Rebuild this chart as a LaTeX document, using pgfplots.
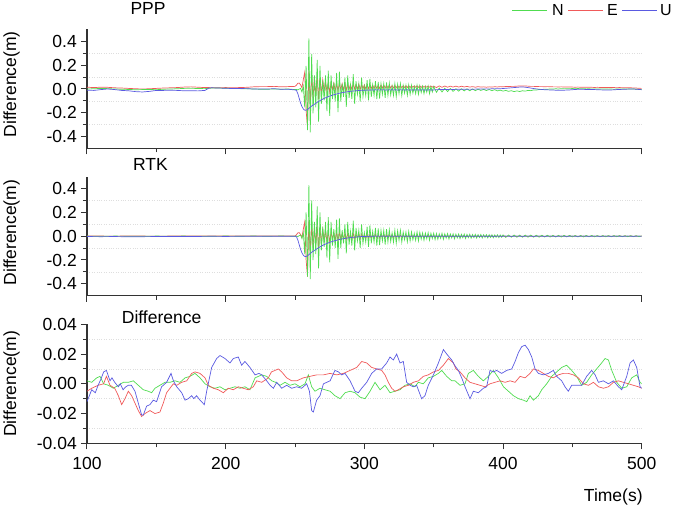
\documentclass[border=0pt]{standalone}
\usepackage{fontspec}
\setmainfont{Liberation Sans}
\usepackage{pgfplots}
\usepackage{pgfplotstable}
\pgfplotsset{compat=1.18}
\definecolor{cN}{RGB}{80,220,80}
\definecolor{cE}{RGB}{240,90,90}
\definecolor{cU}{RGB}{90,90,225}

\pgfplotstableread{
t N E U
100 0.000 0.015 -0.010
105 0.002 0.012 -0.012
110 0.005 0.015 -0.005
115 0.003 0.014 0.000
120 0.000 0.010 -0.005
125 -0.002 0.008 -0.012
130 -0.004 0.005 -0.015
135 -0.006 0.002 -0.022
140 -0.005 0.000 -0.025
145 -0.004 0.002 -0.020
150 -0.006 0.005 -0.012
155 -0.002 0.008 -0.012
160 0.000 0.010 -0.010
165 0.002 0.012 -0.012
170 0.005 0.016 -0.015
175 0.006 0.018 -0.014
180 0.004 0.015 -0.016
185 0.003 0.012 -0.012
188 0.006 0.012 0.008
190 0.008 0.010 0.010
195 0.008 0.010 0.008
200 0.006 0.012 0.006
205 0.005 0.010 0.004
210 0.003 0.012 0.004
215 0.002 0.014 0.003
220 0.000 0.018 0.000
225 -0.002 0.020 0.000
230 -0.002 0.020 0.000
235 0.000 0.022 0.002
240 -0.002 0.018 -0.002
245 0.000 0.020 -0.002
250 -0.005 0.022 -0.008
251 -0.003 0.032 -0.012
252 -0.008 0.048 -0.038
253 -0.001 0.050 -0.078
254 0.005 0.035 -0.118
255 -0.025 0.010 -0.148
256 0.025 0.080 -0.168
257 -0.155 0.140 -0.178
258 0.195 -0.180 -0.178
259 -0.345 -0.320 -0.173
260 0.425 0.150 -0.163
261 -0.365 -0.120 -0.153
262 0.295 0.116 -0.143
263 -0.205 -0.076 -0.136
264 0.115 0.100 -0.128
265 -0.155 -0.052 -0.120
266 0.245 0.108 -0.112
267 -0.275 -0.084 -0.105
268 0.195 0.092 -0.098
269 -0.125 -0.044 -0.091
270 0.075 0.076 -0.085
271 -0.095 -0.016 -0.079
272 0.115 0.068 -0.074
273 -0.185 -0.022 -0.069
274 0.155 0.056 -0.064
275 -0.225 -0.028 -0.060
276 0.115 0.050 -0.056
277 -0.085 -0.004 -0.052
278 0.055 0.050 -0.048
279 -0.105 -0.016 -0.045
280 0.135 0.050 -0.042
281 -0.195 -0.016 -0.039
282 0.145 0.050 -0.036
283 -0.105 -0.004 -0.033
284 0.045 0.044 -0.031
285 -0.065 -0.010 -0.029
286 0.095 0.047 -0.027
287 -0.150 -0.010 -0.025
288 0.115 0.044 -0.023
289 -0.075 -0.001 -0.021
290 0.035 0.038 -0.020
291 -0.085 -0.004 -0.018
292 0.125 0.044 -0.017
293 -0.125 -0.001 -0.016
294 0.065 0.038 -0.015
295 -0.045 0.002 -0.014
296 0.045 0.041 -0.013
297 -0.105 -0.004 -0.012
298 0.095 0.038 -0.011
299 -0.065 0.002 -0.011
300 0.025 0.035 -0.010
301 -0.055 0.002 -0.010
302 0.075 0.038 -0.009
303 -0.095 0.002 -0.010
304 0.085 0.035 -0.009
305 -0.065 0.005 -0.008
306 0.035 0.032 -0.009
307 -0.055 0.005 -0.008
308 0.065 0.035 -0.007
309 -0.085 0.005 -0.008
310 0.060 0.032 -0.007
311 -0.080 0.005 -0.008
312 0.045 0.032 -0.007
313 -0.045 0.008 -0.008
314 0.045 0.032 -0.007
315 -0.075 0.008 -0.008
316 0.055 0.032 -0.009
317 -0.055 0.008 -0.008
318 0.050 0.031 -0.007
319 -0.050 0.009 -0.008
320 0.025 0.029 -0.007
321 -0.055 0.009 -0.008
322 0.045 0.029 -0.007
323 -0.065 0.011 -0.008
324 0.040 0.029 -0.009
325 -0.040 0.011 -0.008
326 0.045 0.029 -0.007
327 -0.055 0.011 -0.008
328 0.030 0.027 -0.007
329 -0.035 0.013 -0.008
330 0.030 0.027 -0.008
331 -0.053 0.013 -0.007
332 0.035 0.027 -0.008
333 -0.045 0.013 -0.009
334 0.031 0.026 -0.008
335 -0.035 0.014 -0.007
336 0.020 0.026 -0.008
337 -0.040 0.014 -0.008
338 0.031 0.026 -0.007
339 -0.045 0.014 -0.008
340 0.027 0.026 -0.009
341 -0.030 0.014 -0.008
342 0.023 0.025 -0.007
343 -0.039 0.015 -0.008
344 0.021 0.025 -0.008
345 -0.027 0.015 -0.009
346 0.025 0.025 -0.008
347 -0.039 0.015 -0.007
348 0.020 0.025 -0.008
349 -0.025 0.015 -0.008
350 0.020 0.024 -0.008
352 -0.028 0.012 -0.006
354 0.008 0.026 -0.005
356 -0.025 0.014 -0.004
358 0.006 0.025 -0.005
360 -0.022 0.015 -0.004
362 0.004 0.024 -0.003
364 -0.020 0.016 -0.004
366 0.002 0.024 -0.003
368 -0.018 0.016 -0.002
370 0.002 0.023 -0.003
372 -0.016 0.017 -0.002
374 0.001 0.022 -0.002
376 -0.015 0.016 -0.001
378 0.000 0.020 -0.002
380 -0.014 0.015 -0.001
382 -0.002 0.020 0.000
384 -0.012 0.016 -0.001
386 -0.003 0.018 0.000
388 -0.013 0.015 0.001
390 -0.004 0.018 0.000
392 -0.014 0.016 0.002
394 -0.006 0.019 0.001
396 -0.016 0.017 0.003
398 -0.010 0.020 0.002
400 -0.018 0.018 0.004
402 -0.012 0.021 0.006
404 -0.020 0.020 0.008
406 -0.014 0.022 0.010
408 -0.022 0.022 0.012
410 -0.016 0.024 0.014
412 -0.021 0.025 0.016
414 -0.015 0.026 0.017
416 -0.018 0.025 0.015
418 -0.012 0.024 0.012
420 -0.014 0.022 0.008
422 -0.008 0.022 0.004
424 -0.009 0.021 0.001
426 -0.004 0.020 -0.002
428 -0.005 0.020 -0.004
430 -0.001 0.019 -0.006
432 -0.003 0.020 -0.007
434 0.001 0.019 -0.008
436 -0.001 0.018 -0.009
438 0.002 0.018 -0.010
440 0.000 0.017 -0.010
442 0.003 0.018 -0.011
444 0.001 0.017 -0.010
446 0.003 0.016 -0.009
448 0.002 0.017 -0.008
450 0.004 0.016 -0.006
452 0.002 0.015 -0.004
454 0.004 0.016 -0.003
456 0.002 0.015 -0.002
458 0.003 0.014 -0.003
460 0.001 0.015 -0.004
462 0.002 0.014 -0.005
464 0.000 0.014 -0.004
466 0.001 0.013 -0.005
468 0.000 0.014 -0.006
470 0.001 0.013 -0.007
472 -0.001 0.013 -0.008
474 0.000 0.012 -0.008
476 -0.001 0.013 -0.009
478 0.000 0.012 -0.008
480 -0.002 0.012 -0.007
482 0.000 0.011 -0.005
484 -0.001 0.012 -0.004
486 0.000 0.011 -0.003
488 -0.001 0.010 -0.002
490 0.000 0.011 -0.001
492 -0.001 0.010 0.000
494 0.000 0.009 0.000
496 -0.002 0.008 -0.002
498 -0.003 0.006 -0.004
500 -0.004 0.005 -0.006
}\ppp

\pgfplotstableread{
t N E U
100 0.001 0.002 -0.003
110 -0.001 0.001 -0.004
120 0.001 0.000 -0.003
130 0.000 0.002 -0.005
140 -0.001 0.001 -0.004
150 0.001 0.000 -0.003
160 0.000 0.001 -0.002
170 0.001 0.002 -0.003
180 -0.001 0.001 -0.002
190 0.000 0.002 -0.001
200 0.001 0.001 -0.002
210 0.000 0.002 -0.001
220 0.001 0.001 0.000
230 0.000 0.002 -0.001
240 0.001 0.001 0.000
250 0.000 0.002 0.000
251 0.002 0.012 -0.004
252 -0.003 0.028 -0.030
253 0.004 0.030 -0.070
254 0.010 0.015 -0.110
255 -0.020 -0.010 -0.140
256 0.030 0.060 -0.160
257 -0.150 0.120 -0.170
258 0.200 -0.200 -0.170
259 -0.340 -0.340 -0.165
260 0.430 0.130 -0.155
261 -0.360 -0.140 -0.145
262 0.300 0.096 -0.135
263 -0.200 -0.096 -0.128
264 0.120 0.080 -0.120
265 -0.150 -0.072 -0.112
266 0.250 0.088 -0.104
267 -0.270 -0.104 -0.097
268 0.200 0.072 -0.090
269 -0.120 -0.064 -0.083
270 0.080 0.056 -0.077
271 -0.090 -0.036 -0.071
272 0.120 0.048 -0.066
273 -0.180 -0.042 -0.061
274 0.160 0.036 -0.056
275 -0.220 -0.048 -0.052
276 0.120 0.030 -0.048
277 -0.080 -0.024 -0.044
278 0.060 0.030 -0.040
279 -0.100 -0.036 -0.037
280 0.140 0.030 -0.034
281 -0.190 -0.036 -0.031
282 0.150 0.030 -0.028
283 -0.100 -0.024 -0.025
284 0.050 0.024 -0.023
285 -0.060 -0.030 -0.021
286 0.100 0.027 -0.019
287 -0.145 -0.030 -0.017
288 0.120 0.024 -0.015
289 -0.070 -0.021 -0.013
290 0.040 0.018 -0.012
291 -0.080 -0.024 -0.010
292 0.130 0.024 -0.009
293 -0.120 -0.021 -0.008
294 0.070 0.018 -0.007
295 -0.040 -0.018 -0.006
296 0.050 0.021 -0.005
297 -0.100 -0.024 -0.004
298 0.100 0.018 -0.003
299 -0.060 -0.018 -0.003
300 0.030 0.015 -0.002
301 -0.050 -0.018 -0.002
302 0.080 0.018 -0.001
303 -0.090 -0.018 -0.002
304 0.090 0.015 -0.001
305 -0.060 -0.015 0.000
306 0.040 0.012 -0.001
307 -0.050 -0.015 0.000
308 0.070 0.015 0.001
309 -0.080 -0.015 0.000
310 0.065 0.012 0.001
311 -0.075 -0.015 0.000
312 0.050 0.012 0.001
313 -0.040 -0.012 0.000
314 0.050 0.012 0.001
315 -0.070 -0.012 0.000
316 0.060 0.012 -0.001
317 -0.050 -0.012 0.000
318 0.055 0.011 0.001
319 -0.045 -0.011 0.000
320 0.030 0.009 0.001
321 -0.050 -0.011 0.000
322 0.050 0.009 0.001
323 -0.060 -0.009 0.000
324 0.045 0.009 -0.001
325 -0.035 -0.009 0.000
326 0.050 0.009 0.001
327 -0.050 -0.009 0.000
328 0.035 0.007 0.001
329 -0.030 -0.007 0.000
330 0.035 0.007 0.000
331 -0.048 -0.007 0.001
332 0.040 0.007 0.000
333 -0.040 -0.007 -0.001
334 0.036 0.006 0.000
335 -0.030 -0.006 0.001
336 0.025 0.006 0.000
337 -0.035 -0.006 0.000
338 0.036 0.006 0.001
339 -0.040 -0.006 0.000
340 0.032 0.006 -0.001
341 -0.025 -0.006 0.000
342 0.028 0.006 0.001
343 -0.034 -0.006 0.000
344 0.026 0.006 0.000
345 -0.022 -0.006 -0.001
346 0.030 0.005 0.000
347 -0.034 -0.005 0.001
348 0.025 0.005 0.000
349 -0.020 -0.005 0.000
350 0.025 0.005 0.000
351 -0.028 -0.005 0.001
352 0.022 0.005 0.000
353 -0.026 -0.005 0.000
354 0.020 0.005 -0.001
355 -0.018 -0.005 0.000
356 0.024 0.005 0.001
357 -0.026 -0.005 0.000
358 0.020 0.005 0.000
359 -0.016 -0.005 -0.001
360 0.022 0.005 0.000
361 -0.024 -0.005 0.001
362 0.018 0.005 0.000
363 -0.015 -0.005 0.000
364 0.020 0.005 -0.001
365 -0.022 -0.005 0.000
366 0.017 0.005 0.001
367 -0.014 -0.005 0.000
368 0.018 0.005 0.000
369 -0.020 -0.005 -0.001
370 0.016 0.005 0.000
371 -0.013 -0.005 0.001
372 0.017 0.005 0.000
373 -0.019 -0.005 0.000
374 0.015 0.005 -0.001
375 -0.012 -0.005 0.000
376 0.016 0.005 0.001
377 -0.017 -0.005 0.000
378 0.014 0.004 0.000
379 -0.012 -0.004 -0.001
380 0.015 0.004 0.000
381 -0.016 -0.004 0.001
382 0.013 0.004 0.000
383 -0.011 -0.004 0.000
384 0.014 0.004 -0.001
385 -0.015 -0.004 0.000
386 0.012 0.004 0.001
387 -0.010 -0.004 0.000
388 0.013 0.004 0.000
389 -0.014 -0.004 -0.001
390 0.012 0.004 0.000
391 -0.010 -0.004 0.001
392 0.012 0.004 0.000
393 -0.013 -0.004 0.000
394 0.011 0.004 -0.001
395 -0.009 -0.004 0.000
396 0.012 0.004 0.001
397 -0.012 -0.004 0.000
398 0.010 0.003 0.000
399 -0.009 -0.003 -0.001
400 0.011 0.003 0.000
402 -0.010 -0.003 0.001
404 0.010 0.003 0.000
406 -0.009 -0.003 -0.001
408 0.010 0.003 0.000
410 -0.009 -0.003 0.001
412 0.009 0.003 0.000
414 -0.009 -0.003 -0.001
416 0.009 0.003 0.000
418 -0.008 -0.003 0.001
420 0.009 0.003 0.000
422 -0.008 -0.003 -0.001
424 0.008 0.003 0.000
426 -0.008 -0.002 0.001
428 0.008 0.002 0.000
430 -0.007 -0.002 -0.001
432 0.008 0.002 0.000
434 -0.007 -0.002 0.001
436 0.007 0.002 0.000
438 -0.007 -0.002 -0.001
440 0.007 0.002 0.000
442 -0.007 -0.002 0.001
444 0.007 0.002 0.000
446 -0.006 -0.002 -0.001
448 0.007 0.002 0.000
450 -0.006 -0.002 0.001
452 0.006 0.002 0.000
454 -0.006 -0.002 -0.001
456 0.006 0.002 0.000
458 -0.006 -0.002 0.001
460 0.006 0.002 0.000
462 -0.005 -0.002 -0.001
464 0.006 0.002 0.000
466 -0.005 -0.002 0.001
468 0.005 0.002 0.000
470 -0.005 -0.002 -0.001
472 0.005 0.002 0.000
474 -0.005 -0.002 0.001
476 0.005 0.002 0.000
478 -0.005 -0.002 -0.001
480 0.005 0.002 0.000
482 -0.004 -0.002 0.001
484 0.005 0.002 0.000
486 -0.004 -0.002 -0.001
488 0.004 0.002 0.000
490 -0.004 -0.002 0.001
492 0.004 0.002 0.000
494 -0.004 -0.002 -0.001
496 0.004 0.002 0.000
498 -0.004 -0.002 0.001
500 0.003 0.001 0.000
}\rtk

\pgfplotstableread{
t v
100 0.002
103.4 0.001
107 0.004
109.4 0.005
112 0.000
115.4 -0.001
119 -0.003
122.6 -0.001
126.2 0.001
129.8 0.001
133.4 0.002
137 -0.001
140.6 -0.004
144.2 -0.005
146.6 -0.006
149 -0.003
152.6 -0.001
156.2 0.001
159.8 0.001
163.5 0.002
167.1 0.001
170.7 0.004
174.2 0.005
177.9 0.007
181.5 0.004
185.1 0.000
188.7 -0.002
192.3 -0.003
195.9 -0.002
199.5 -0.004
203.1 -0.003
206.7 -0.002
210.3 -0.003
213.9 -0.002
217.5 -0.004
221.2 0.004
226 0.006
229.6 0.005
233.2 0.002
236 0.001
239.2 -0.001
242.8 0.001
246.4 -0.001
250 0.000
253.6 -0.002
257.2 0.000
259.6 0.006
262 -0.002
264.4 -0.005
268 -0.003
271.6 -0.004
275.3 -0.005
278.8 -0.008
282.5 -0.010
286.1 -0.006
289.7 -0.005
293.3 -0.006
296.9 -0.009
300.5 -0.010
304.1 -0.005
307.7 0.001
311.3 -0.004
314.9 -0.001
318.5 -0.006
322.1 -0.005
325.7 -0.004
329.3 -0.001
333 0.000
336.5 -0.002
338.9 0.001
342.5 0.000
346.1 0.004
349.8 0.005
353.4 0.007
355.8 0.009
359.4 0.005
363 0.002
365.4 0.002
369 -0.001
372.6 0.000
375 0.007
378.6 0.009
382.2 0.005
385.8 0.002
389.4 0.005
393 0.009
396.7 0.004
400.3 -0.002
403.9 -0.005
407.5 -0.008
411.1 -0.010
414.7 -0.011
417.1 -0.012
419.5 -0.008
421.9 -0.011
425.5 -0.008
427.9 -0.004
431.5 0.000
435.1 0.005
438.7 0.008
442.3 0.011
445.9 0.0125
449.5 0.009
453.1 0.005
456.7 -0.001
460.3 0.001
463.9 0.006
467.5 0.010
471.1 0.014
473.6 0.017
476 0.016
478.4 0.009
482 0.001
485.6 -0.003
489.2 -0.002
492.8 0.004
496.4 0.006
498.8 0.001
500 0.000
}\dN

\pgfplotstableread{
t v
100 -0.005
103.4 -0.003
108 -0.001
112 0.000
114 0.005
116.6 -0.001
120 -0.003
122.6 -0.008
125 -0.014
127.4 -0.010
129.8 -0.005
132.2 -0.008
134.6 -0.013
137 -0.018
139.4 -0.022
141.8 -0.020
145.4 -0.018
149 -0.020
152.6 -0.019
155 -0.013
157.4 -0.006
159.8 -0.003
162.3 0.000
164.7 -0.001
168.3 0.001
171.9 0.002
175.5 0.007
177.9 0.008
181.5 0.007
185.1 0.004
187.5 -0.001
191.1 -0.003
194.7 -0.004
198.3 -0.006
201.9 -0.003
205.5 -0.004
209.1 -0.002
212.7 -0.003
216.3 -0.004
219.9 -0.002
222.4 0.002
226 0.001
230.8 0.004
233 0.008
235.6 0.009
238 0.010
240.4 0.008
244 0.004
247.6 0.002
251.2 0.002
256 0.004
260.8 0.005
265.6 0.006
270.5 0.006
275.3 0.007
280 0.006
284.9 0.007
289.7 0.009
294.5 0.011
298.1 0.015
301.7 0.014
305.3 0.011
308.9 0.010
312.5 0.009
314.9 0.006
317.3 0.001
319.7 -0.003
322.1 -0.005
324.5 -0.004
328.1 -0.002
331.8 -0.001
335.3 0.001
339 0.002
342.5 0.005
346.1 0.006
349.8 0.008
353.4 0.009
357 0.0125
360.6 0.017
364.2 0.014
366 0.010
369 0.008
372.6 0.004
376.2 0.001
379.8 0.000
383.4 -0.001
387 -0.002
390.6 0.000
394.2 0.001
397.9 0.002
401.5 0.001
405.1 0.002
408.7 0.001
412.3 0.005
415.9 0.004
419.5 0.007
421.9 0.010
425.5 0.009
429.1 0.007
432.7 0.005
436.3 0.004
439.9 0.006
443.5 0.007
447.1 0.007
450.7 0.006
454.3 0.004
457.9 0.000
461.6 -0.001
465.2 0.001
468.8 -0.002
472.4 -0.003
476 -0.002
479.6 0.001
483.2 0.002
486.8 0.001
490.4 0.000
494 -0.001
497.6 -0.002
500 -0.003
}\dE

\pgfplotstableread{
t v
100 -0.012
103.4 -0.004
106 -0.006
108 -0.001
110 0.003
112 0.008
114 0.009
116.6 0.002
118 0.004
120 0.001
122.6 -0.002
124 0.000
126 -0.004
128 -0.002
129.8 -0.001
132 -0.001
134.6 -0.005
137 -0.013
139.4 -0.021
140.6 -0.021
143 -0.015
145.4 -0.014
147.8 -0.011
150.2 -0.012
153.8 -0.002
157.4 0.001
160.6 0.007
162.3 0.002
164.7 -0.002
168.3 -0.006
170.7 -0.011
173 -0.010
175.5 -0.008
177 -0.010
179 -0.008
181.5 -0.011
184.6 -0.014
186.3 -0.005
189.9 0.011
193.5 0.017
195.9 0.019
199.5 0.017
203.1 0.014
205.5 0.017
209.1 0.018
211.5 0.0125
213.9 0.015
217.5 0.011
221.2 0.006
224 0.007
226 0.006
229.6 0.002
232 -0.001
234.4 -0.003
236.8 0.001
240.4 -0.003
244 -0.001
247.6 -0.003
251.2 -0.002
254.8 -0.003
258.4 0.000
260.4 -0.005
262 -0.018
263.2 -0.019
265.6 -0.011
268 -0.008
270.5 0.000
272.9 0.001
275.3 0.002
278.8 0.009
281.3 0.008
283.7 0.006
286.1 0.007
289.7 0.002
293.3 -0.005
295.7 -0.006
298.1 -0.003
301.7 0.001
305.3 0.007
308.9 0.010
312.5 0.010
316.1 0.014
318.5 0.018
320.9 0.016
323.3 0.020
325.7 0.014
328.1 0.015
330.5 0.001
333 -0.001
335.3 -0.002
337.7 -0.001
341.3 -0.010
343.7 -0.008
346.1 -0.001
349.8 0.006
353.4 0.014
357 0.023
359.4 0.020
363 0.016
365.4 0.012
367.8 0.009
370.2 0.004
372.6 -0.002
376.2 -0.010
378.6 -0.005
382.2 -0.006
385.8 -0.003
388.2 -0.002
390.6 0.009
393 0.008
395.4 0.009
399 0.007
402.7 0.009
406.3 0.010
408.7 0.015
411.1 0.021
413.5 0.025
415.9 0.026
418.3 0.023
420.7 0.018
423.1 0.010
425.5 0.007
429.1 0.006
432.7 0.007
436.3 0.009
438.7 0.005
442.3 0.002
444.7 -0.002
447.1 -0.005
449.5 -0.001
453.1 -0.001
456.7 -0.001
460.3 0.005
463.9 0.009
466.4 0.006
468.8 0.001
472.4 0.002
476 0.000
479.6 0.002
483.2 -0.002
485.6 -0.004
489.2 0.005
491.6 0.014
494 0.016
496.4 0.011
498.8 -0.002
500 -0.003
}\dU

\pgfplotsset{
  panel/.style={
    scale only axis, width=554.7pt, height=119pt,
    xmin=100, xmax=500,
    axis x line*=bottom, axis y line*=left,
    axis line style={black!80, line width=1.1pt},
    tick align=outside,
    xtick={100,200,300,400,500}, minor x tick num=1,
    minor y tick num=1,
    major tick length=6pt, minor tick length=4pt,
    every tick/.style={black!80, line width=1pt},
    yminorgrids,
    minor grid style={dotted, black!13, line width=0.5pt},
    font=\fontsize{17.5}{21}\selectfont,
    /pgf/number format/assume math mode=true,
    scaled y ticks=false,
    yticklabel style={inner sep=0pt, anchor=east, xshift=-4pt},
    xticklabel style={inner sep=0pt, anchor=north, yshift=-8pt},
    ylabel={Difference(m)},
    every axis plot/.append style={line width=0.7pt, no markers},
  }
}

\begin{document}
\begin{tikzpicture}
\path[use as bounding box] (0pt,0pt) rectangle (675pt,511pt);

% PPP
\begin{axis}[panel, at={(87pt,362.5pt)}, anchor=south west,
  ymin=-0.5, ymax=0.5, ytick={-0.4,-0.2,0,0.2,0.4},
  yticklabel style={/pgf/number format/.cd, fixed, fixed zerofill, precision=1},
  xticklabels={},
  ylabel style={at={(axis description cs:-0.151,0.54)}, anchor=north, inner sep=0pt},
  title={PPP}, title style={at={(axis description cs:0.11,1.073)}, anchor=base, inner sep=0pt},
]
\addplot[color=cE] table[x=t, y=E] {\ppp};
\addplot[color=cN] table[x=t, y=N] {\ppp};
\addplot[color=cU] table[x=t, y=U] {\ppp};
\end{axis}

% RTK
\begin{axis}[panel, at={(87pt,215.3pt)}, anchor=south west,
  ymin=-0.5, ymax=0.5, ytick={-0.4,-0.2,0,0.2,0.4},
  yticklabel style={/pgf/number format/.cd, fixed, fixed zerofill, precision=1},
  xticklabels={},
  ylabel style={at={(axis description cs:-0.151,0.53)}, anchor=north, inner sep=0pt},
  title={RTK}, title style={at={(axis description cs:0.1145,1.005)}, anchor=base, inner sep=0pt},
]
\addplot[color=cE] table[x=t, y=E] {\rtk};
\addplot[color=cN] table[x=t, y=N] {\rtk};
\addplot[color=cU] table[x=t, y=U] {\rtk};
\end{axis}

% Difference
\begin{axis}[panel, at={(87pt,67.7pt)}, anchor=south west,
  ymin=-0.04, ymax=0.04, ytick={-0.04,-0.02,0,0.02,0.04},
  yticklabel style={/pgf/number format/.cd, fixed, fixed zerofill, precision=2},
  xticklabel style={/pgf/number format/.cd, fixed, precision=0},
  ylabel style={at={(axis description cs:-0.151,0.5)}, anchor=north, inner sep=0pt},
  title={Difference}, title style={at={(axis description cs:0.1345,0.956)}, anchor=base, inner sep=0pt},
  xlabel={Time(s)}, xlabel style={at={(axis description cs:1.002,-0.49)}, anchor=base east, inner sep=0pt},
]
\addplot[color=cN] table[x=t, y=v] {\dN};
\addplot[color=cE] table[x=t, y=v] {\dE};
\addplot[color=cU] table[x=t, y=v] {\dU};
\end{axis}

% legend keys
\draw[cN, line width=1.5pt] (512pt,500.5pt) -- (547pt,500.5pt);
\node[anchor=west, inner sep=0pt, font=\fontsize{16}{19}\selectfont] at (552pt,500.5pt) {N};
\draw[cE, line width=1.5pt] (568pt,500.5pt) -- (603pt,500.5pt);
\node[anchor=west, inner sep=0pt, font=\fontsize{16}{19}\selectfont] at (607pt,500.5pt) {E};
\draw[cU, line width=1.5pt] (622pt,500.5pt) -- (657pt,500.5pt);
\node[anchor=west, inner sep=0pt, font=\fontsize{16}{19}\selectfont] at (660pt,500.5pt) {U};
\end{tikzpicture}
\end{document}
